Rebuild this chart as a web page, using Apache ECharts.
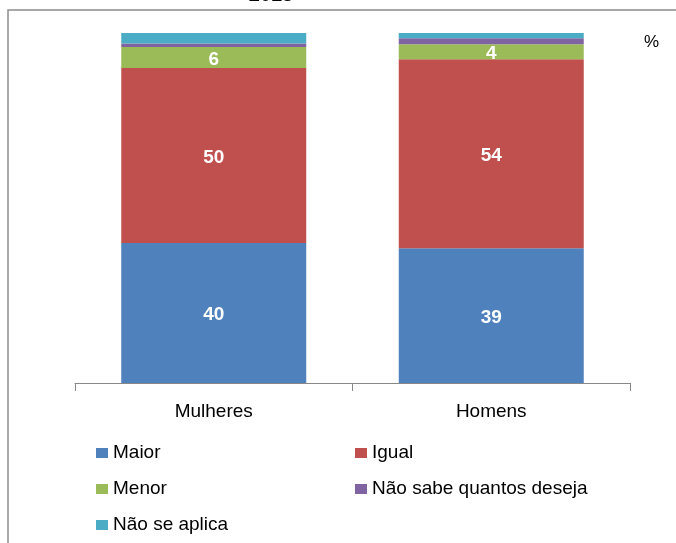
<!DOCTYPE html>
<html>
<head>
<meta charset="utf-8">
<script src="https://cdn.jsdelivr.net/npm/echarts@6/dist/echarts.min.js"></script>
<style>
  html, body { margin: 0; padding: 0; background: #fff; }
  #chart { width: 676px; height: 543px; }
</style>
</head>
<body>
<div id="chart"></div>
<script>
// categories and series (percent)
const categories = ['Mulheres', 'Homens']
const maior = [40, 38.5]
const igual = [50, 54]
const menor = [6, 4.3]
const naoSabe = [1, 1.7]
const naoAplica = [3, 1.5]

const font = 'Liberation Sans, Arial, sans-serif'
const colors = ['#4F81BD', '#C0504D', '#9BBB59', '#8064A2', '#4BACC6']

function makeSeries(name, data, showLabel) {
  return {
    name: name,
    type: 'bar',
    stack: 'total',
    barWidth: 185,
    data: data,
    label: {
      show: showLabel,
      color: '#fff',
      fontWeight: 'bold',
      fontSize: 19,
      fontFamily: font,
      offset: [0, 2],
      formatter: (p) => Math.round(p.value)
    }
  }
}

function legendCol(left, names) {
  return {
    left: left,
    top: 443,
    padding: 0,
    orient: 'vertical',
    itemWidth: 12,
    itemHeight: 10,
    itemGap: 16,
    icon: 'rect',
    data: names,
    textStyle: { color: '#000', fontSize: 19, fontFamily: font, lineHeight: 20 }
  }
}

const chart = echarts.init(document.getElementById('chart'))
chart.setOption({
  animation: false,
  color: colors,
  graphic: [
    {
      type: 'rect',
      shape: { x: 8, y: 10, width: 720, height: 600 },
      style: { fill: 'none', stroke: '#8c8c8c', lineWidth: 1.5 },
      z: -1
    },
    {
      type: 'text',
      x: 271,
      y: -15,
      style: { text: '2013', font: 'bold 20px ' + font, fill: '#000', textAlign: 'center', textVerticalAlign: 'top' }
    },
    {
      type: 'text',
      x: 644,
      y: 34,
      style: { text: '%', font: '17px ' + font, fill: '#000' }
    }
  ],
  grid: { left: 75, right: 46, top: 33, bottom: 160 },
  xAxis: {
    type: 'category',
    data: categories,
    axisLine: { lineStyle: { color: '#888', width: 1 } },
    axisTick: { show: true, alignWithLabel: false, length: 8, lineStyle: { color: '#888' } },
    axisLabel: { color: '#000', fontSize: 19, fontFamily: font, margin: 19 }
  },
  yAxis: {
    type: 'value',
    min: 0,
    max: 100,
    show: false
  },
  legend: [
    legendCol(96, ['Maior', 'Menor', 'Não se aplica']),
    legendCol(355, ['Igual', 'Não sabe quantos deseja'])
  ],
  series: [
    makeSeries('Maior', maior, true),
    makeSeries('Igual', igual, true),
    makeSeries('Menor', menor, true),
    makeSeries('Não sabe quantos deseja', naoSabe, false),
    makeSeries('Não se aplica', naoAplica, false)
  ]
})
</script>
</body>
</html>
